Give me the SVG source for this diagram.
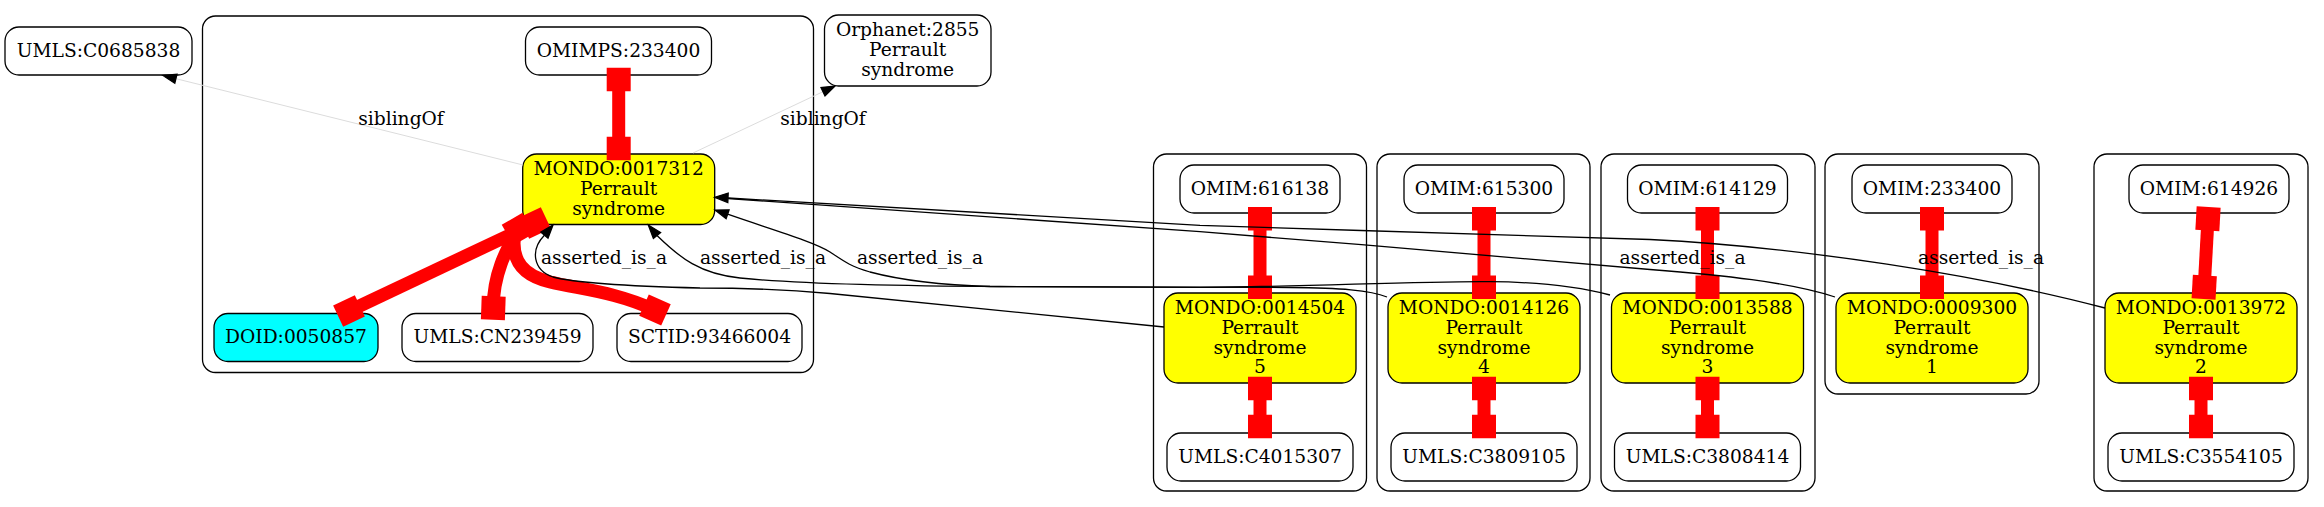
<svg xmlns="http://www.w3.org/2000/svg" width="2324" height="507" viewBox="0 0 2324 507">
<defs>
<style>
text { font-family: "DejaVu Serif", "Liberation Serif", serif; font-size: 18.67px; fill: #000; text-anchor: middle; }
.cl { fill: none; stroke: #000; stroke-width: 1.3; }
.n { fill: #fff; stroke: #000; stroke-width: 1.3; }
.y { fill: #ffff00; }
.c { fill: #00ffff; }
.eq { stroke: #ff0000; stroke-width: 13; fill: none; }
.isa { stroke: #000; stroke-width: 1.3; fill: none; }
.ah { fill: #000; stroke: #000; stroke-width: 1.3; }
.sib { stroke: #dcdcdc; stroke-width: 1; fill: none; }
</style>
<rect id="bx" x="-12" y="-11.75" width="24" height="23.5" fill="#ff0000"/>
</defs>
<rect x="0" y="0" width="2324" height="507" fill="#fff"/>

<g id="clusters">
<rect class="cl" x="202.5" y="16" width="611" height="356.5" rx="13"/>
<rect class="cl" x="1153.5" y="154" width="213" height="337" rx="13"/>
<rect class="cl" x="1377" y="154" width="213" height="337" rx="13"/>
<rect class="cl" x="1601" y="154" width="214" height="337" rx="13"/>
<rect class="cl" x="1825" y="154" width="214" height="240" rx="13"/>
<rect class="cl" x="2094" y="154" width="214" height="337" rx="13"/>
</g>

<g id="nodes">
<g id="n_UMLS_C0685838"><rect class="n" x="5" y="27" width="187" height="48" rx="14"/><text x="98.5" y="56.8">UMLS:C0685838</text></g>
<g id="n_OMIMPS_233400"><rect class="n" x="525.5" y="27" width="186" height="48" rx="14"/><text x="618.5" y="56.8">OMIMPS:233400</text></g>
<g id="n_Orphanet_2855"><rect class="n" x="824.5" y="15" width="166.5" height="71" rx="14"/><text x="907.7" y="36">Orphanet:2855</text><text x="907.7" y="56">Perrault</text><text x="907.7" y="76">syndrome</text></g>
<g id="n_MONDO_0017312"><rect class="n y" x="522.7" y="154" width="192" height="70.5" rx="14"/><text x="618.7" y="174.5">MONDO:0017312</text><text x="618.7" y="194.5">Perrault</text><text x="618.7" y="214.5">syndrome</text></g>
<g id="n_DOID_0050857"><rect class="n c" x="214" y="313.5" width="164" height="48" rx="14"/><text x="296" y="343.3">DOID:0050857</text></g>
<g id="n_UMLS_CN239459"><rect class="n" x="402" y="313.5" width="191" height="48" rx="14"/><text x="497.5" y="343.3">UMLS:CN239459</text></g>
<g id="n_SCTID_93466004"><rect class="n" x="617" y="313.5" width="185" height="48" rx="14"/><text x="709.5" y="343.3">SCTID:93466004</text></g>

<g id="n_OMIM_616138"><rect class="n" x="1180" y="165" width="160" height="48" rx="14"/><text x="1260" y="194.8">OMIM:616138</text></g>
<g id="n_MONDO_0014504"><rect class="n y" x="1164" y="293" width="192" height="90" rx="14"/><text x="1260" y="314">MONDO:0014504</text><text x="1260" y="334">Perrault</text><text x="1260" y="353.5">syndrome</text><text x="1260" y="373">5</text></g>
<g id="n_UMLS_C4015307"><rect class="n" x="1167" y="433" width="186" height="48" rx="14"/><text x="1260" y="462.8">UMLS:C4015307</text></g>

<g id="n_OMIM_615300"><rect class="n" x="1404" y="165" width="160" height="48" rx="14"/><text x="1484" y="194.8">OMIM:615300</text></g>
<g id="n_MONDO_0014126"><rect class="n y" x="1388" y="293" width="192" height="90" rx="14"/><text x="1484" y="314">MONDO:0014126</text><text x="1484" y="334">Perrault</text><text x="1484" y="353.5">syndrome</text><text x="1484" y="373">4</text></g>
<g id="n_UMLS_C3809105"><rect class="n" x="1391" y="433" width="186" height="48" rx="14"/><text x="1484" y="462.8">UMLS:C3809105</text></g>

<g id="n_OMIM_614129"><rect class="n" x="1627.5" y="165" width="160" height="48" rx="14"/><text x="1707.5" y="194.8">OMIM:614129</text></g>
<g id="n_MONDO_0013588"><rect class="n y" x="1611.5" y="293" width="192" height="90" rx="14"/><text x="1707.5" y="314">MONDO:0013588</text><text x="1707.5" y="334">Perrault</text><text x="1707.5" y="353.5">syndrome</text><text x="1707.5" y="373">3</text></g>
<g id="n_UMLS_C3808414"><rect class="n" x="1614.5" y="433" width="186" height="48" rx="14"/><text x="1707.5" y="462.8">UMLS:C3808414</text></g>

<g id="n_OMIM_233400"><rect class="n" x="1852" y="165" width="160" height="48" rx="14"/><text x="1932" y="194.8">OMIM:233400</text></g>
<g id="n_MONDO_0009300"><rect class="n y" x="1836" y="293" width="192" height="90" rx="14"/><text x="1932" y="314">MONDO:0009300</text><text x="1932" y="334">Perrault</text><text x="1932" y="353.5">syndrome</text><text x="1932" y="373">1</text></g>

<g id="n_OMIM_614926"><rect class="n" x="2129" y="165" width="160" height="48" rx="14"/><text x="2209" y="194.8">OMIM:614926</text></g>
<g id="n_MONDO_0013972"><rect class="n y" x="2105" y="293" width="192" height="90" rx="14"/><text x="2201" y="314">MONDO:0013972</text><text x="2201" y="334">Perrault</text><text x="2201" y="353.5">syndrome</text><text x="2201" y="373">2</text></g>
<g id="n_UMLS_C3554105"><rect class="n" x="2108" y="433" width="186" height="48" rx="14"/><text x="2201" y="462.8">UMLS:C3554105</text></g>
</g>

<g id="connectors">
<!-- siblingOf -->
<line class="sib" x1="523" y1="165" x2="176" y2="78.7"/>
<polygon class="ah" points="163,75.5 174.8,83.2 177,74.2"/>
<line class="sib" x1="693" y1="153" x2="823" y2="91.7"/>
<polygon class="ah" points="835,86 825,95.9 821,87.5"/>

<!-- red equivalence edges -->
<line class="eq" x1="618.7" y1="79.5" x2="618.7" y2="148.5"/>
<use href="#bx" x="618.7" y="79.5"/><use href="#bx" x="618.7" y="148.5"/>

<line class="eq" x1="535" y1="223" x2="349" y2="311"/>
<use href="#bx" transform="translate(349,311) rotate(-25.3)"/>
<path class="eq" d="M518,229 C506,250 493,275 493.3,308"/>
<use href="#bx" transform="translate(493.3,308) rotate(2)"/>
<path class="eq" d="M515,233 C510,262 525,276 550,282 C585,290 615,292 655,310"/>
<use href="#bx" transform="translate(655,310) rotate(24)"/>
<use href="#bx" transform="translate(518,229) rotate(-30)"/>
<use href="#bx" transform="translate(535,223) rotate(-25.3)"/>

<line class="eq" x1="1260" y1="218.75" x2="1260" y2="287.25"/>
<use href="#bx" x="1260" y="218.75"/><use href="#bx" x="1260" y="287.25"/>
<line class="eq" x1="1260" y1="388.5" x2="1260" y2="426.5"/>
<use href="#bx" x="1260" y="388.5"/><use href="#bx" x="1260" y="426.5"/>

<line class="eq" x1="1484" y1="218.75" x2="1484" y2="287.25"/>
<use href="#bx" x="1484" y="218.75"/><use href="#bx" x="1484" y="287.25"/>
<line class="eq" x1="1484" y1="388.5" x2="1484" y2="426.5"/>
<use href="#bx" x="1484" y="388.5"/><use href="#bx" x="1484" y="426.5"/>

<line class="eq" x1="1707.5" y1="218.75" x2="1707.5" y2="287.25"/>
<use href="#bx" x="1707.5" y="218.75"/><use href="#bx" x="1707.5" y="287.25"/>
<line class="eq" x1="1707.5" y1="388.5" x2="1707.5" y2="426.5"/>
<use href="#bx" x="1707.5" y="388.5"/><use href="#bx" x="1707.5" y="426.5"/>

<line class="eq" x1="1932" y1="218.75" x2="1932" y2="287.25"/>
<use href="#bx" x="1932" y="218.75"/><use href="#bx" x="1932" y="287.25"/>

<line class="eq" x1="2208" y1="218.75" x2="2204.2" y2="287.25"/>
<use href="#bx" transform="translate(2208,218.75) rotate(3.15)"/>
<use href="#bx" transform="translate(2204.2,287.25) rotate(3.15)"/>
<line class="eq" x1="2201" y1="388.5" x2="2201" y2="426.5"/>
<use href="#bx" x="2201" y="388.5"/><use href="#bx" x="2201" y="426.5"/>

<!-- asserted_is_a edges -->
<path class="isa" d="M1164,327 L830,293.5 C780,289 740,288 700,288 C620,286 575,283 553,277 C533,270 530,250 544.4,235.2"/>
<polygon class="ah" points="553,225 548,238.2 540.8,232.2"/>

<path class="isa" d="M1387,297 C1370,290 1340,288 1290,287.5 L1000,286.5 C900,286 800,284 740,278 C700,274 680,258 657,235.5"/>
<polygon class="ah" points="648.3,225 660.6,232.5 653.4,238.5"/>

<path class="isa" d="M727.6,214.2 C770,229 815,242 830,252 C845,262 850,266 870,272 C900,280 940,285 990,286.5 L1200,287.3 C1300,287 1420,281 1490,281.7 C1540,282 1580,287 1610,295"/>
<polygon class="ah" points="715,210 726.1,218.6 729.1,209.8"/>

<path class="isa" d="M728,198.5 C950,215 1100,225 1200,231.7 C1350,243 1550,261 1650,269.5 C1720,275 1790,282 1835,297"/>
<path class="isa" d="M728,198 C950,211 1100,221 1200,225.3 C1350,231 1550,235 1650,239.5 C1800,247 1980,275 2105,308"/>
<polygon class="ah" points="714.7,197.3 728.2,193.1 727.8,202.5"/>
</g>

<g id="edge-labels">
<text x="401" y="125">siblingOf</text>
<text x="823" y="125">siblingOf</text>
<text x="604" y="264">asserted_is_a</text>
<text x="763" y="264">asserted_is_a</text>
<text x="920" y="264">asserted_is_a</text>
<text x="1682.5" y="264">asserted_is_a</text>
<text x="1981" y="264">asserted_is_a</text>
</g>
</svg>
